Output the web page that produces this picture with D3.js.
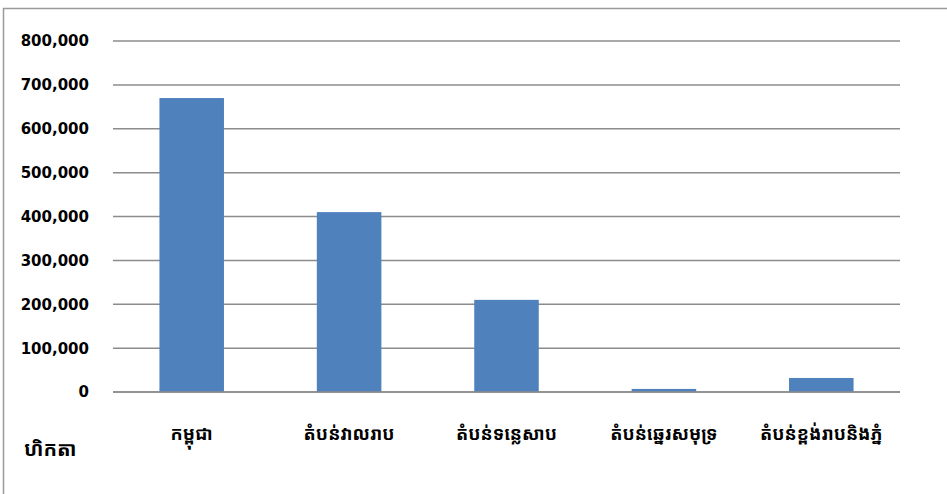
<!DOCTYPE html>
<html>
<head>
<meta charset="utf-8">
<script src="https://cdn.jsdelivr.net/npm/d3@7"></script>
<style>
  body { margin: 0; background: #fff; }
</style>
</head>
<body>
<script>
// chart data
const categories = ["កម្ពុជា", "តំបន់វាលរាប", "តំបន់ទន្លេសាប", "តំបន់ឆ្នេរសមុទ្រ", "តំបន់ខ្ពង់រាបនិងភ្នំ"];
const values = [670000, 410000, 210000, 7000, 32000];
const yTicks = [0, 100000, 200000, 300000, 400000, 500000, 600000, 700000, 800000];
const unitLabel = "ហិកតា";

const canvWidth = 947, canvHeight = 494;
const svg = d3.select("body").append("svg")
    .attr("width", canvWidth)
    .attr("height", canvHeight);

// outer frame of the chart area (only left and top edge visible)
svg.append("path")
    .attr("d", "M3.5," + canvHeight + " V8.5 H" + canvWidth)
    .attr("fill", "none")
    .attr("stroke", "#9a9a9a")
    .attr("stroke-width", 1.5);

const plot = {left: 113, right: 900, top: 41, bottom: 392};

const xScale = d3.scaleBand().domain(categories)
    .range([plot.left, plot.right])
    .paddingInner(0.59).paddingOuter(0.295);
const yScale = d3.scaleLinear().domain([0, 800000]).range([plot.bottom, plot.top]);

// gridlines + y labels
const fmt = d3.format(",");
svg.append("g")
    .selectAll("line")
    .data(yTicks)
    .enter()
    .append("line")
    .attr("x1", plot.left)
    .attr("x2", plot.right)
    .attr("y1", d => yScale(d))
    .attr("y2", d => yScale(d))
    .attr("stroke", "#8c8c8c")
    .attr("stroke-width", 1.5);

svg.append("g")
    .selectAll("text")
    .data(yTicks)
    .enter()
    .append("text")
    .attr("x", 89)
    .attr("y", d => yScale(d))
    .attr("dy", "0.36em")
    .attr("text-anchor", "end")
    .attr("font-family", "'DejaVu Sans', Verdana, sans-serif")
    .attr("font-weight", "bold")
    .attr("font-size", "15px")
    .attr("fill", "#000")
    .text(d => fmt(d));

// bars
svg.append("g")
    .selectAll("rect")
    .data(values)
    .enter()
    .append("rect")
    .attr("x", (d, i) => xScale(categories[i]))
    .attr("y", d => yScale(d))
    .attr("width", xScale.bandwidth())
    .attr("height", d => plot.bottom - yScale(d))
    .attr("fill", "#4f81bd");

// redraw baseline on top
svg.append("line")
    .attr("x1", plot.left).attr("x2", plot.right)
    .attr("y1", yScale(0)).attr("y2", yScale(0))
    .attr("stroke", "#8c8c8c")
    .attr("stroke-width", 1.5);

// category labels
const khmerFont = "'Khmer OS Muol Light', 'Khmer OS', 'Noto Sans Khmer', 'Noto Sans', sans-serif";
svg.append("g")
    .selectAll("text")
    .data(categories)
    .enter()
    .append("text")
    .attr("x", d => xScale(d) + xScale.bandwidth() / 2)
    .attr("y", 440)
    .attr("text-anchor", "middle")
    .attr("font-family", khmerFont)
    .attr("font-weight", "bold")
    .attr("font-size", "18px")
    .text(d => d);

// unit label
svg.append("text")
    .attr("x", 24)
    .attr("y", 456)
    .attr("font-family", khmerFont)
    .attr("font-weight", "bold")
    .attr("font-size", "20px")
    .text(unitLabel);
</script>
</body>
</html>
